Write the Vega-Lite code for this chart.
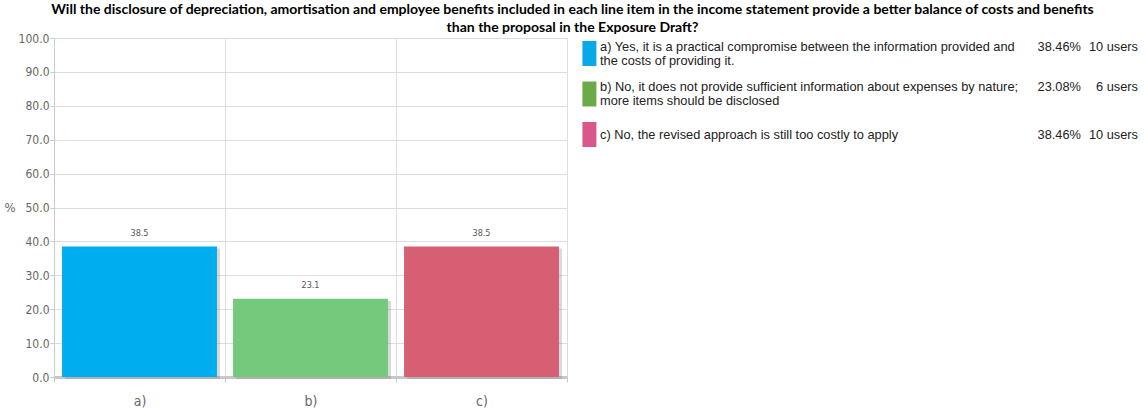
{
  "$schema": "https://vega.github.io/schema/vega-lite/v6.json",
  "background": "white",
  "padding": {"left": 3, "top": 3, "right": 5, "bottom": 2},
  "bounds": "flush",
  "spacing": 10,
  "title": {
    "text": ["Will the disclosure of depreciation, amortisation and employee benefits included in each line item in the income statement provide a better balance of costs and benefits", "than the proposal in the Exposure Draft?"],
    "font": "Lato",
    "fontSize": 14,
    "fontWeight": "bold",
    "color": "#000000",
    "anchor": "middle",
    "offset": -3,
    "lineHeight": 18
  },
  "datasets": {
    "answers": [
      {"option": "a)", "answer": "a) Yes, it is a practical compromise between the information provided and\nthe costs of providing it.", "pct": 38.46, "users": 10},
      {"option": "b)", "answer": "b) No, it does not provide sufficient information about expenses by nature;\nmore items should be disclosed", "pct": 23.08, "users": 6},
      {"option": "c)", "answer": "c) No, the revised approach is still too costly to apply", "pct": 38.46, "users": 10}
    ]
  },
  "hconcat": [
    {
      "width": 513,
      "height": 339,
      "data": {"name": "answers"},
      "encoding": {
        "x": {
          "field": "option", "type": "nominal",
          "scale": {"paddingInner": 0, "paddingOuter": 0},
          "axis": {
            "title": null, "tickBand": "extent", "grid": true, "gridColor": "#dddddd",
            "labelAngle": 0, "domainColor": "#c8c8c8", "domainWidth": 3,
            "tickColor": "#c8c8c8", "tickSize": 5,
            "labelFont": "DejaVu Sans Condensed, sans-serif",
            "labelFontSize": 14, "labelColor": "#666666", "labelPadding": 12
          }
        },
        "y": {
          "field": "pct", "type": "quantitative",
          "scale": {"domain": [0, 100], "nice": false},
          "axis": {
            "values": [0, 10, 20, 30, 40, 50, 60, 70, 80, 90, 100],
            "format": ".1f", "grid": true, "gridColor": "#dddddd",
            "domainColor": "#cccccc", "tickColor": "#cccccc", "tickSize": 4,
            "labelFont": "DejaVu Sans Condensed, sans-serif",
            "labelFontSize": 12, "labelColor": "#666666", "labelPadding": 1,
            "title": "%", "titleAngle": 0, "titleFontWeight": "normal",
            "titleFont": "DejaVu Sans Condensed, sans-serif",
            "titleFontSize": 13, "titleColor": "#666666", "titlePadding": 3,
            "titleBaseline": "middle", "titleAlign": "right"
          }
        }
      },
      "layer": [
        {"mark": {"type": "bar", "width": {"band": 0.906}, "color": "#7f7f7f", "opacity": 0.3, "xOffset": 3, "yOffset": 2}},
        {
          "mark": {"type": "bar", "width": {"band": 0.906}},
          "encoding": {
            "color": {"field": "option", "type": "nominal", "scale": {"domain": ["a)", "b)", "c)"], "range": ["#00adef", "#74c97c", "#d65f73"]}, "legend": null}
          }
        },
        {
          "mark": {"type": "text", "baseline": "bottom", "dy": -9, "fontSize": 9, "color": "#555555", "font": "DejaVu Sans Condensed, sans-serif"},
          "encoding": {"text": {"field": "pct", "type": "quantitative", "format": ".1f"}}
        }
      ]
    },
    {
      "width": 564,
      "height": 339,
      "data": {"name": "answers"},
      "transform": [
        {"calculate": "format(datum.pct, '.2f') + '%'", "as": "pctText"},
        {"calculate": "datum.users + ' users'", "as": "usersText"},
        {"calculate": "indexof(datum.answer, '\\n') >= 0", "as": "twoLines"}
      ],
      "encoding": {
        "y": {"field": "option", "type": "nominal", "scale": {"type": "point", "padding": 0, "domain": ["a)", "b)", "c)"], "range": [15.5, 96.5]}, "axis": null}
      },
      "layer": [
        {
          "mark": {"type": "point", "shape": "M-0.56,-1H0.56V1H-0.56Z", "filled": true, "size": 625, "opacity": 1, "strokeWidth": 0},
          "encoding": {
            "x": {"datum": 2.2, "type": "quantitative", "scale": {"domain": [0, 100], "nice": false, "zero": false}, "axis": null},
            "color": {"field": "option", "type": "nominal", "scale": {"domain": ["a)", "b)", "c)"], "range": ["#0aa8e6", "#6aab48", "#d9588b"]}, "legend": null}
          }
        },
        {
          "transform": [{"filter": "datum.twoLines"}],
          "layer": [
            {
              "mark": {"type": "text", "align": "left", "baseline": "middle", "yOffset": -7, "lineBreak": "\n", "lineHeight": 14, "font": "Liberation Sans, Arial, sans-serif", "fontSize": 12.8, "color": "#222222"},
              "encoding": {"x": {"datum": 4.08, "type": "quantitative"}, "text": {"field": "answer", "type": "nominal"}}
            },
            {
              "mark": {"type": "text", "align": "right", "baseline": "middle", "yOffset": -7, "font": "Liberation Sans, Arial, sans-serif", "fontSize": 12.8, "color": "#222222"},
              "encoding": {"x": {"datum": 89.36, "type": "quantitative"}, "text": {"field": "pctText", "type": "nominal"}}
            },
            {
              "mark": {"type": "text", "align": "right", "baseline": "middle", "yOffset": -7, "font": "Liberation Sans, Arial, sans-serif", "fontSize": 12.8, "color": "#222222"},
              "encoding": {"x": {"datum": 99.47, "type": "quantitative"}, "text": {"field": "usersText", "type": "nominal"}}
            }
          ]
        },
        {
          "transform": [{"filter": "!datum.twoLines"}],
          "layer": [
            {
              "mark": {"type": "text", "align": "left", "baseline": "middle", "lineBreak": "\n", "lineHeight": 14, "font": "Liberation Sans, Arial, sans-serif", "fontSize": 12.8, "color": "#222222"},
              "encoding": {"x": {"datum": 4.08, "type": "quantitative"}, "text": {"field": "answer", "type": "nominal"}}
            },
            {
              "mark": {"type": "text", "align": "right", "baseline": "middle", "font": "Liberation Sans, Arial, sans-serif", "fontSize": 12.8, "color": "#222222"},
              "encoding": {"x": {"datum": 89.36, "type": "quantitative"}, "text": {"field": "pctText", "type": "nominal"}}
            },
            {
              "mark": {"type": "text", "align": "right", "baseline": "middle", "font": "Liberation Sans, Arial, sans-serif", "fontSize": 12.8, "color": "#222222"},
              "encoding": {"x": {"datum": 99.47, "type": "quantitative"}, "text": {"field": "usersText", "type": "nominal"}}
            }
          ]
        }
      ]
    }
  ],
  "resolve": {"scale": {"color": "independent"}},
  "config": {"view": {"stroke": null}}
}
